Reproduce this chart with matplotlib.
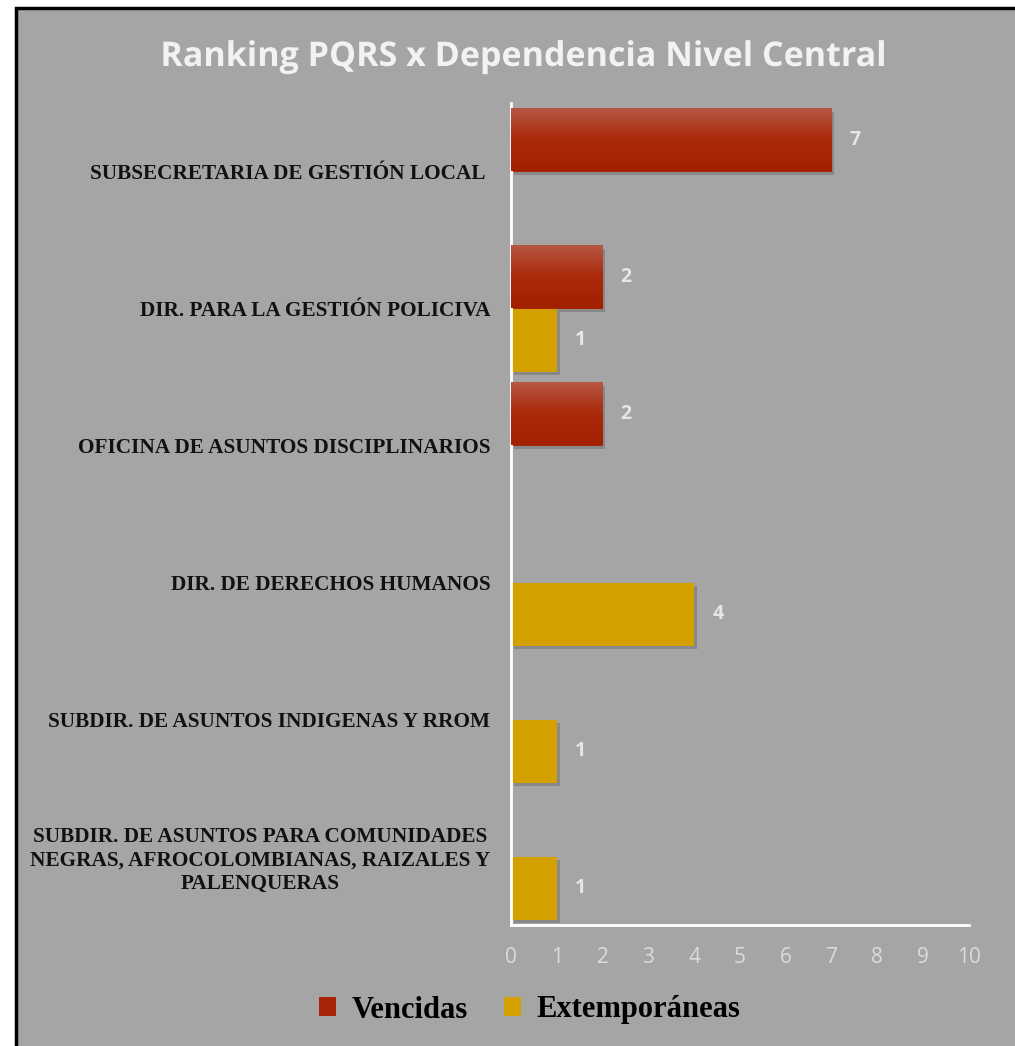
import numpy as np
import matplotlib
matplotlib.use('Agg')
import matplotlib.pyplot as plt
import matplotlib.patheffects as pe
from matplotlib.patches import Rectangle, Patch
from matplotlib.colors import LinearSegmentedColormap

# data
categories = [
    'SUBSECRETARIA DE GESTIÓN LOCAL ',
    'DIR. PARA LA GESTIÓN POLICIVA',
    'OFICINA DE ASUNTOS DISCIPLINARIOS',
    'DIR. DE DERECHOS HUMANOS',
    'SUBDIR. DE ASUNTOS INDIGENAS Y RROM',
    'SUBDIR. DE ASUNTOS PARA COMUNIDADES\nNEGRAS, AFROCOLOMBIANAS, RAIZALES Y\nPALENQUERAS',
]
vencidas = [7, 2, 2, 0, 0, 0]
extemporaneas = [0, 1, 0, 4, 1, 1]
series_names = ['Vencidas', 'Extemporáneas']
x_ticks = list(range(0, 11))

bg = '#a5a5a5'
red = '#a82508'
gold = '#d4a000'

fig = plt.figure(figsize=(10.15, 10.46), dpi=100, facecolor='white')

# grey panel with black frame
fig.patches.append(Rectangle((16 / 1015, -0.02), 1.05, 1.02 - 8 / 1046,
                             transform=fig.transFigure, facecolor=bg,
                             edgecolor='black', linewidth=2.5, zorder=-5))

ax = fig.add_axes([511 / 1015, 1 - 925 / 1046, 458 / 1015, 822 / 1046])
ax.set_facecolor('none')

y = np.arange(len(categories))
h = 0.46
shadow = [pe.withSimplePatchShadow(offset=(2, -2.5), shadow_rgbFace='#333333', alpha=0.25)]

bars_v = ax.barh(y - h / 2, vencidas, height=h, color=red, zorder=2, path_effects=shadow)
bars_e = ax.barh(y + h / 2, extemporaneas, height=h, color=gold, zorder=2, path_effects=shadow)

# gradient on red bars
cmap = LinearSegmentedColormap.from_list('rg', ['#b65846', '#ab2a0a', '#a02000'])
grad = np.linspace(0, 1, 100).reshape(-1, 1)
for b in bars_v:
    if b.get_width() == 0:
        continue
    x0, y0, w, hh = b.get_x(), b.get_y(), b.get_width(), b.get_height()
    im = ax.imshow(grad, cmap=cmap, aspect='auto', origin='upper',
                   extent=(x0, x0 + w, y0 + hh, y0), zorder=3)
    im.set_clip_path(b)

ax.set_xlim(0, 10)
ax.set_ylim(len(categories) - 0.5, -0.5)

# data labels
for bars, vals in [(bars_v, vencidas), (bars_e, extemporaneas)]:
    for b, v in zip(bars, vals):
        if v == 0:
            continue
        ax.annotate(str(v), (v, b.get_y() + b.get_height() / 2),
                    xytext=(17, 0), textcoords='offset points',
                    ha='center', va='center', fontsize=14, fontweight='bold',
                    color='#e6e6e6', family='Open Sans', zorder=5)

# axes styling
for s in ['top', 'right']:
    ax.spines[s].set_visible(False)
ax.spines['left'].set_color('white')
ax.spines['left'].set_linewidth(2)
ax.spines['bottom'].set_color('white')
ax.spines['bottom'].set_linewidth(2)

ax.set_xticks(x_ticks)
ax.tick_params(axis='x', length=0, pad=16, labelsize=15, labelcolor='#dcdcdc')
for t in ax.get_xticklabels():
    t.set_family('Open Sans')

ax.set_yticks(y)
ax.set_yticklabels(categories)
ax.tick_params(axis='y', length=0, pad=15)
for t in ax.get_yticklabels():
    t.set_family('Liberation Serif')
    t.set_fontweight('bold')
    t.set_fontsize(15.3)
    t.set_color('#111111')
    t.set_multialignment('center')

# title
fig.text(0.515, 1 - 66 / 1046, 'Ranking PQRS x Dependencia Nivel Central',
         ha='center', va='baseline', fontsize=24.5, fontweight='bold',
         family='Open Sans', color='#f2f2f2',
         path_effects=[pe.SimpleLineShadow(offset=(1.5, -1.5), shadow_color='#555555', alpha=0.6),
                       pe.Normal()])

# legend
handles = [Patch(facecolor=red, edgecolor='none'), Patch(facecolor=gold, edgecolor='none')]
leg = fig.legend(handles, series_names, loc='center', bbox_to_anchor=(0.522, 1 - 1010 / 1046),
                 ncol=2, frameon=False, handlelength=0.55, handleheight=0.55,
                 handletextpad=0.5, columnspacing=1.2,
                 prop={'family': 'Liberation Serif', 'weight': 'bold', 'size': 22})

fig.savefig('out.png', dpi=100, facecolor='white')
